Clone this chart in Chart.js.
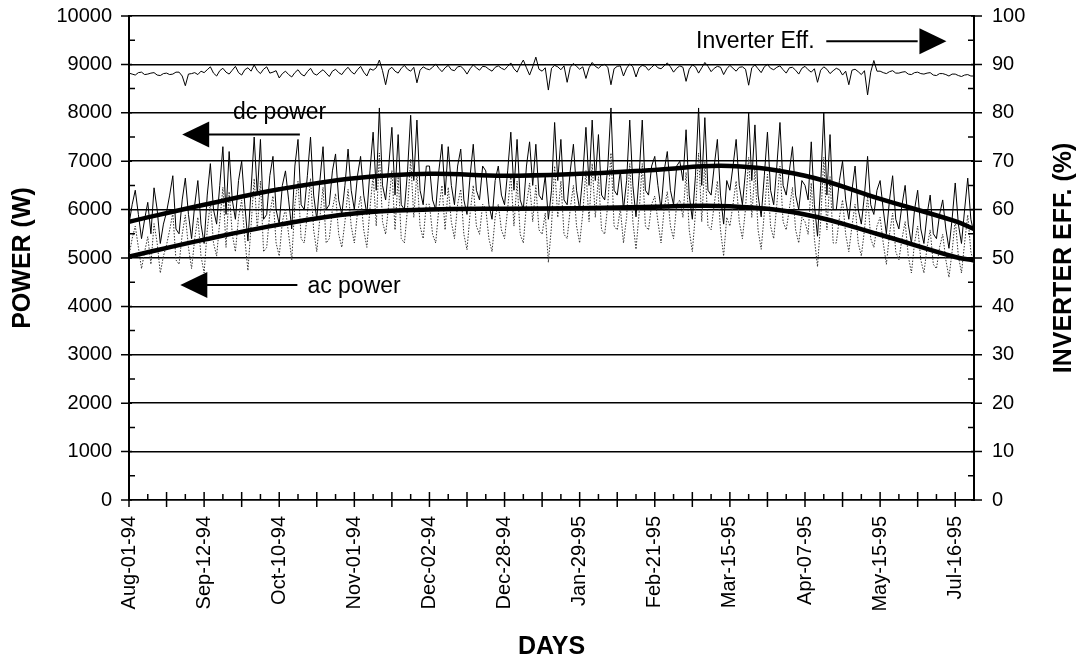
<!DOCTYPE html>
<html>
<head>
<meta charset="utf-8">
<script src="https://cdn.jsdelivr.net/npm/chart.js@4/dist/chart.umd.min.js"></script>
<style>
  html, body { margin: 0; padding: 0; background: #fff; }
  #wrap { width: 1080px; height: 662px; position: relative; }
</style>
</head>
<body>
<div id="wrap"><canvas id="graphCanvas"></canvas></div>
<script>
// etichette dell'asse x (una ogni 24 punti)
var xLabels = ['Aug-01-94', 'Sep-12-94', 'Oct-10-94', 'Nov-01-94', 'Dec-02-94', 'Dec-28-94',
    'Jan-29-95', 'Feb-21-95', 'Mar-15-95', 'Apr-07-95', 'May-15-95', 'Jul-16-95'];
var labelStep = 24;

// potenza dc giornaliera (W)
var dcPower = [
    5700, 6100, 6400, 5900, 5400, 5800, 6150, 5500, 6450, 6000, 5300, 5700, 5950, 6300, 6700, 5600, 5500, 6200, 6650, 5900, 5400, 6100, 6600, 5700,
    5300, 6300, 6950, 6000, 5700, 6500, 7300, 5900, 7200, 6200, 5800, 6600, 7000, 6100, 5350, 6400, 7500, 6300, 7450, 5800, 5900, 6700, 7100, 6000,
    5700, 6500, 6800, 6200, 5600, 6900, 7450, 6100, 6000, 6700, 7500, 6300, 5800, 6600, 7300, 6000, 6100, 6800, 7150, 6200, 5900, 6500, 7250, 6400,
    6000, 6700, 7100, 6300, 5900, 6800, 7600, 6400, 8100, 6500, 6200, 6900, 7700, 6300, 7550, 6100, 6000, 6800, 7950, 6600, 7850, 6400, 6100, 6900,
    6900, 6200, 6000, 6800, 7350, 6300, 7300, 6500, 6100, 6900, 7250, 6200, 5900, 6700, 7350, 6400, 6200, 6900, 6800, 6100, 5800, 6600, 6900, 6300,
    6100, 6800, 7600, 6400, 7450, 6200, 6000, 6900, 7400, 6500, 7350, 6300, 6200, 6700, 5800, 6400, 7800, 6600, 7450, 6200, 6100, 6800, 7350, 6400,
    6000, 6700, 7700, 6500, 7850, 6600, 7550, 6300, 6200, 6900, 8100, 6400, 6300, 6800, 6000, 6600, 7850, 6500, 5850, 6700, 7850, 6400, 6300, 6900,
    7100, 6500, 6000, 6800, 7200, 6400, 6100, 6900, 7000, 6600, 7650, 6300, 5800, 6700, 8100, 6500, 7900, 6400, 6300, 6900, 7450, 6300, 5700, 6600,
    6400, 6900, 7450, 6500, 6100, 6800, 8000, 6600, 7750, 6300, 5850, 6700, 7600, 6400, 6100, 6900, 7800, 6500, 6300, 6800, 7300, 6300, 6000, 6600,
    6500, 6200, 7400, 6100, 5450, 6500, 8000, 6300, 7550, 6000, 6000, 6600, 7000, 6200, 5800, 6400, 6900, 6000, 5700, 6300, 7100, 6100, 5900, 6400,
    6600, 6000, 5500, 6200, 6700, 5800, 5600, 6100, 6500, 5700, 5300, 6000, 6400, 5600, 5300, 5900, 6300, 5500, 5400, 5900, 6200, 5600, 5200, 5800,
    6550, 5700, 5300, 6000, 6650, 5800, 5500
];

// potenza ac giornaliera (W)
var acPower = [
    5040, 5400, 5660, 5220, 4780, 5130, 5440, 4870, 5710, 5310, 4690, 5040, 5270, 5580, 5930, 4960, 4870, 5490, 5890, 5220, 4780, 5400, 5840, 5040,
    4690, 5580, 6150, 5310, 5040, 5750, 6460, 5220, 6370, 5490, 5130, 5840, 6200, 5400, 4740, 5660, 6640, 5580, 6590, 5130, 5220, 5930, 6280, 5310,
    5040, 5750, 6020, 5490, 4960, 6110, 6590, 5400, 5310, 5930, 6640, 5580, 5130, 5840, 6460, 5310, 5400, 6020, 6330, 5490, 5220, 5750, 6420, 5660,
    5310, 5930, 6280, 5580, 5220, 6020, 6730, 5660, 7170, 5750, 5490, 6110, 6810, 5580, 6680, 5400, 5310, 6020, 7040, 5840, 6770, 5660, 5400, 6110,
    6110, 5490, 5310, 6020, 6500, 5580, 6460, 5750, 5400, 6110, 6420, 5490, 5170, 5930, 6500, 5660, 5490, 6110, 6020, 5400, 5130, 5840, 6110, 5580,
    5400, 6020, 6730, 5660, 6590, 5490, 5310, 6110, 6550, 5750, 6500, 5580, 5490, 5930, 4910, 5660, 6900, 5840, 6590, 5490, 5400, 6020, 6500, 5660,
    5310, 5930, 6810, 5750, 6950, 5840, 6680, 5580, 5490, 6110, 7170, 5660, 5580, 6020, 5310, 5840, 6950, 5750, 5180, 5930, 6950, 5660, 5580, 6110,
    6280, 5750, 5310, 6020, 6370, 5660, 5400, 6110, 6200, 5840, 6770, 5580, 5130, 5930, 7170, 5750, 6990, 5660, 5580, 6110, 6590, 5580, 5040, 5840,
    5660, 6110, 6590, 5750, 5400, 6020, 7080, 5840, 6860, 5580, 5180, 5930, 6730, 5660, 5400, 6110, 6900, 5750, 5580, 6020, 6460, 5580, 5310, 5840,
    5750, 5490, 6550, 5400, 4820, 5750, 7080, 5580, 6680, 5310, 5310, 5840, 6200, 5490, 5130, 5660, 6110, 5310, 5040, 5580, 6280, 5400, 5220, 5660,
    5840, 5310, 4870, 5490, 5930, 5130, 4960, 5400, 5750, 5040, 4690, 5310, 5660, 4960, 4690, 5220, 5580, 4870, 4780, 5220, 5490, 4960, 4600, 5130,
    5800, 5040, 4690, 5310, 5890, 5130, 4870
];

// efficienza inverter (%)
var invEff = [
    88.2, 88.0, 87.8, 88.3, 88.4, 87.9, 88.0, 88.2, 88.3, 87.8, 87.7, 88.1, 88.2, 87.9, 88.0, 88.4, 88.4, 87.6, 85.6, 88.0, 88.1, 88.3, 87.9, 88.6,
    88.3, 88.9, 89.5, 88.2, 87.6, 88.7, 89.2, 88.4, 88.0, 88.8, 89.6, 88.3, 87.8, 88.9, 89.3, 88.6, 89.9, 88.7, 88.1, 89.0, 89.5, 88.2, 88.4, 88.7,
    87.2, 88.1, 88.6, 87.9, 87.4, 88.3, 88.9, 88.0, 87.6, 88.5, 89.2, 88.1, 87.8, 88.4, 88.9, 88.2, 87.5, 88.6, 89.0, 88.3, 87.9, 88.8, 89.4, 88.5,
    88.0, 88.9, 89.6, 88.4, 87.6, 89.1, 88.8, 89.3, 90.9, 88.7, 85.8, 88.9, 89.4, 88.6, 88.2, 89.2, 89.8, 89.0, 88.6, 89.4, 86.2, 88.8, 89.5, 89.1,
    88.9, 89.4, 90.1, 89.2, 88.5, 89.3, 89.8, 88.9, 88.7, 89.5, 89.6, 89.0, 88.0, 89.1, 89.9, 89.3, 88.8, 89.6, 89.5, 89.0, 88.6, 89.4, 89.7, 89.2,
    88.9, 89.6, 90.3, 89.1, 88.4, 89.8, 90.9, 89.3, 87.8, 89.5, 91.5, 89.0, 88.6, 89.3, 84.7, 89.2, 89.8, 89.5, 88.9, 89.7, 86.3, 89.4, 90.2, 89.6,
    89.0, 89.5, 87.1, 89.3, 90.4, 89.6, 89.2, 89.8, 90.0, 89.4, 85.8, 89.1, 89.6, 89.7, 87.6, 89.2, 90.1, 89.5, 87.4, 89.3, 89.8, 89.6, 88.8, 89.4,
    90.0, 89.3, 89.1, 89.7, 90.3, 89.5, 88.4, 89.2, 89.7, 89.4, 86.5, 89.0, 89.9, 89.5, 88.2, 89.3, 90.4, 89.6, 88.5, 89.2, 89.6, 89.4, 87.9, 89.1,
    89.8, 89.2, 88.6, 89.4, 89.5, 89.0, 85.7, 89.3, 89.9, 89.1, 88.3, 89.5, 90.0, 89.2, 88.9, 89.4, 89.7, 88.9, 88.2, 89.3, 89.4, 88.8, 88.0, 89.2,
    89.6, 88.9, 88.4, 89.1, 86.3, 88.8, 89.5, 89.0, 88.1, 88.7, 89.2, 88.9, 87.8, 88.6, 85.8, 88.8, 89.0, 88.5, 87.9, 88.7, 83.7, 88.4, 90.8, 88.6,
    88.6, 88.3, 88.1, 88.5, 88.7, 88.2, 88.2, 88.4, 88.5, 88.0, 87.9, 88.3, 88.4, 88.1, 88.0, 88.2, 88.3, 87.8, 87.7, 88.1, 88.1, 87.9, 87.6, 88.0,
    88.0, 87.7, 87.5, 87.8, 87.9, 87.6, 87.6
];

// curve di tendenza (punti di controllo)
var trendIdx = [0, 24, 48, 72, 96, 120, 144, 168, 192, 216, 240, 264, 270];
var dcTrend = [5750, 6100, 6420, 6650, 6740, 6700, 6740, 6820, 6900, 6700, 6220, 5760, 5600];
var acTrend = [5030, 5380, 5690, 5920, 6000, 6020, 6030, 6060, 6070, 5900, 5480, 5020, 4950];

var FONT = '"Liberation Sans", Arial, sans-serif';

function toXY(values) {
    return values.map(function (v, i) { return { x: i, y: v }; });
}
function trendXY(values) {
    return values.map(function (v, i) { return { x: trendIdx[i], y: v }; });
}

// tacche, titolo destro e annotazioni
var decorPlugin = {
    id: 'decor',
    afterDraw: function (chart) {
        var ctx = chart.ctx;
        var ya = chart.scales.y, y2 = chart.scales.y2, xa = chart.scales.x;
        var area = chart.chartArea;
        ctx.save();
        ctx.strokeStyle = '#000';
        ctx.lineWidth = 1.5;
        ctx.beginPath();
        for (var v = 0; v <= 10000; v += 500) {
            var py = ya.getPixelForValue(v);
            if (v % 1000 === 0) { ctx.moveTo(area.left - 8, py); ctx.lineTo(area.left + 3, py); }
            else { ctx.moveTo(area.left, py); ctx.lineTo(area.left + 6, py); }
        }
        for (var e = 0; e <= 100; e += 5) {
            var py2 = y2.getPixelForValue(e);
            if (e % 10 === 0) { ctx.moveTo(area.right - 3, py2); ctx.lineTo(area.right + 8, py2); }
            else { ctx.moveTo(area.right - 6, py2); ctx.lineTo(area.right, py2); }
        }
        for (var i = 0; i <= dcPower.length - 1; i += 6) {
            var px = xa.getPixelForValue(i);
            if (i % 12 === 0) { ctx.moveTo(px, area.bottom - 8); ctx.lineTo(px, area.bottom + 7); }
            else { ctx.moveTo(px, area.bottom - 6); ctx.lineTo(px, area.bottom); }
        }
        ctx.stroke();

        // titolo asse destro
        ctx.fillStyle = '#000';
        ctx.font = 'bold 25px ' + FONT;
        ctx.textAlign = 'center';
        ctx.textBaseline = 'middle';
        ctx.save();
        ctx.translate(1064, (area.top + area.bottom) / 2);
        ctx.rotate(-Math.PI / 2);
        ctx.fillText('INVERTER EFF. (%)', 0, 0);
        ctx.restore();

        // annotazioni con frecce
        ctx.font = '23px ' + FONT;
        ctx.textAlign = 'left';
        ctx.lineWidth = 2;
        function arrow(x0, x1, tip, yPix, dir) {
            ctx.beginPath();
            ctx.moveTo(x0, yPix);
            ctx.lineTo(x1, yPix);
            ctx.stroke();
            var base = tip - dir * 27;
            ctx.beginPath();
            ctx.moveTo(tip, yPix);
            ctx.lineTo(base, yPix - 13);
            ctx.lineTo(base, yPix + 13);
            ctx.closePath();
            ctx.fill();
        }
        var yEff = y2.getPixelForValue(94.8);
        ctx.fillText('Inverter Eff.', xa.getPixelForValue(181.2), yEff);
        arrow(xa.getPixelForValue(222.8), xa.getPixelForValue(252), xa.getPixelForValue(261.2), yEff, 1);

        ctx.fillText('dc power', xa.getPixelForValue(33.2), ya.getPixelForValue(8000));
        arrow(xa.getPixelForValue(25), xa.getPixelForValue(54.6), xa.getPixelForValue(17), ya.getPixelForValue(7550), -1);

        ctx.fillText('ac power', xa.getPixelForValue(57), ya.getPixelForValue(4400));
        arrow(xa.getPixelForValue(24.8), xa.getPixelForValue(53.8), xa.getPixelForValue(16.4), ya.getPixelForValue(4440), -1);
        ctx.restore();
    }
};

// larghezza fissa degli assi verticali, senza margine extra in alto
function fixVertical(width) {
    return function (scale) {
        scale.width = width;
        scale.paddingTop = 0;
        scale.paddingBottom = 0;
    };
}

var graphTarget = document.getElementById('graphCanvas');
var lineGraph = new Chart(graphTarget, {
    type: 'line',
    data: {
        datasets: [
            {
                label: 'dc trend', data: trendXY(dcTrend), yAxisID: 'y',
                borderColor: '#000', borderWidth: 4.5, pointRadius: 0, tension: 0.4, order: 0
            },
            {
                label: 'ac trend', data: trendXY(acTrend), yAxisID: 'y',
                borderColor: '#000', borderWidth: 4.5, pointRadius: 0, tension: 0.4, order: 0
            },
            {
                label: 'dc power', data: toXY(dcPower), yAxisID: 'y',
                borderColor: '#000', borderWidth: 1, pointRadius: 0, tension: 0, order: 1
            },
            {
                label: 'ac power', data: toXY(acPower), yAxisID: 'y',
                borderColor: '#333', borderWidth: 1, borderDash: [1.5, 1.5], pointRadius: 0, tension: 0, order: 2
            },
            {
                label: 'Inverter Eff.', data: toXY(invEff), yAxisID: 'y2',
                borderColor: '#000', borderWidth: 1, pointRadius: 0, tension: 0, order: 3
            }
        ]
    },
    options: {
        responsive: true,
        maintainAspectRatio: false,
        animation: false,
        layout: { padding: { top: 16, left: 0, right: 0, bottom: 0 } },
        plugins: {
            legend: { display: false },
            tooltip: { enabled: false }
        },
        scales: {
            x: {
                type: 'linear',
                min: 0,
                max: dcPower.length - 1,
                afterBuildTicks: function (scale) {
                    scale.ticks = xLabels.map(function (l, i) { return { value: i * labelStep }; });
                },
                afterFit: function (scale) { scale.height = 162; },
                grid: { display: false, drawTicks: false },
                border: { display: true, color: '#000', width: 1.5 },
                ticks: {
                    autoSkip: false,
                    minRotation: 90,
                    maxRotation: 90,
                    padding: 16,
                    color: '#000',
                    font: { family: FONT, size: 20 },
                    callback: function (value) { return xLabels[Math.round(value / labelStep)]; }
                },
                title: {
                    display: true,
                    text: 'DAYS',
                    color: '#000',
                    font: { family: FONT, size: 25, weight: 'bold' },
                    padding: { top: 0, bottom: 0 }
                }
            },
            y: {
                position: 'left',
                min: 0,
                max: 10000,
                afterFit: fixVertical(129),
                grid: { color: '#000', lineWidth: 1.5, drawTicks: false },
                border: { display: true, color: '#000', width: 2 },
                ticks: {
                    stepSize: 1000,
                    padding: 17,
                    color: '#000',
                    font: { family: FONT, size: 20 },
                    callback: function (value) { return String(value); }
                },
                title: {
                    display: true,
                    text: 'POWER (W)',
                    color: '#000',
                    font: { family: FONT, size: 25, weight: 'bold' },
                    padding: { top: 8, bottom: 0 }
                }
            },
            y2: {
                position: 'right',
                min: 0,
                max: 100,
                afterFit: fixVertical(106),
                grid: { drawOnChartArea: false, drawTicks: false },
                border: { display: true, color: '#000', width: 2 },
                ticks: {
                    stepSize: 10,
                    padding: 18,
                    color: '#000',
                    font: { family: FONT, size: 20 }
                }
            }
        }
    },
    plugins: [decorPlugin]
});
</script>
</body>
</html>
